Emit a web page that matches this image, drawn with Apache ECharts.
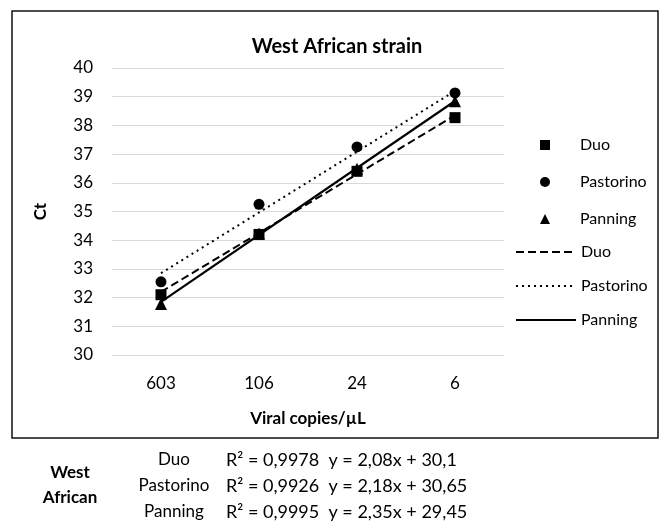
<!DOCTYPE html>
<html><head><meta charset="utf-8">
<script src="https://cdn.jsdelivr.net/npm/echarts@6/dist/echarts.min.js"></script>
<style>html,body{margin:0;padding:0;background:#fff}#c{width:661px;height:523px}</style>
</head><body><div id="c"></div>
<script>
// Categories (x axis)
const categories = ['603', '106', '24', '6'];
// Measured Ct values (markers)
const duo = [32.1, 34.2, 36.4, 38.27];
const pastorino = [32.55, 35.25, 37.25, 39.13];
const panning = [31.78, 34.23, 36.49, 38.84];
// Linear trendlines: endpoints (joined straight across the category axis)
const duoTrend = [32.2, null, null, 38.35];
const pastorinoTrend = [32.85, null, null, 39.2];
const panningTrend = [31.85, null, null, 38.85];
// Y axis ticks
const yMin = 30, yMax = 40, yStep = 1;
// Table under the chart
const tableGroup = ['West', 'African'];
const tableNames = ['Duo', 'Pastorino', 'Panning'];
const tableEquations = ['R² = 0,9978  y = 2,08x + 30,1', 'R² = 0,9926  y = 2,18x + 30,65', 'R² = 0,9995  y = 2,35x + 29,45'];

const F = 'Lato, "Open Sans", sans-serif';
const chart = echarts.init(document.getElementById('c'), null, {renderer: 'canvas'});

const rowY = [460, 486, 512];
const graphics = [{
  type: 'rect', shape: {x: 12, y: 11, width: 646, height: 427},
  style: {fill: 'none', stroke: '#111', lineWidth: 1.5}, silent: true
}];
tableGroup.forEach((t, i) => graphics.push({
  type: 'text', x: 70, y: 473 + i * 25,
  style: {text: t, font: 'bold 17px ' + F, fill: '#000', textAlign: 'center', textVerticalAlign: 'middle'}
}));
tableNames.forEach((t, i) => graphics.push({
  type: 'text', x: 174, y: rowY[i],
  style: {text: t, font: '17px ' + F, fill: '#000', textAlign: 'center', textVerticalAlign: 'middle'}
}));
tableEquations.forEach((t, i) => graphics.push({
  type: 'text', x: 226, y: rowY[i],
  style: {text: t, font: '18px ' + F, fill: '#000', textAlign: 'left', textVerticalAlign: 'middle'}
}));

const trendName = n => n + ' trend';
const legendText = {fontFamily: F, fontSize: 16, color: '#000'};
const option = {
  animation: false,
  backgroundColor: '#fff',
  title: {
    text: 'West African strain', left: 332, top: 32, textAlign: 'center',
    textStyle: {fontFamily: F, fontWeight: 'bold', fontSize: 20, color: '#000'}
  },
  grid: {left: 112, right: 157, top: 68, bottom: 168},
  legend: [{
    orient: 'vertical', left: 535, top: 132, itemWidth: 10, itemHeight: 10, itemGap: 21,
    data: [{name: 'Duo', icon: 'rect'}, {name: 'Pastorino', icon: 'circle'}, {name: 'Panning', icon: 'triangle'}],
    textStyle: Object.assign({padding: [0, 0, 0, 25]}, legendText),
    selectedMode: false
  }, {
    orient: 'vertical', left: 510, top: 239, itemWidth: 60, itemHeight: 10, itemGap: 18,
    data: [trendName('Duo'), trendName('Pastorino'), trendName('Panning')],
    formatter: n => n.replace(' trend', ''),
    itemStyle: {opacity: 0},
    textStyle: legendText,
    selectedMode: false
  }],
  xAxis: {
    type: 'category', data: categories, boundaryGap: true,
    axisLine: {show: true, lineStyle: {color: '#d9d9d9', width: 1}},
    axisTick: {show: false},
    axisLabel: {fontFamily: F, fontSize: 17, color: '#000', margin: 20},
    name: 'Viral copies/µL', nameLocation: 'middle', nameGap: 55,
    nameTextStyle: {fontFamily: F, fontSize: 17, fontWeight: 'bold', color: '#000'}
  },
  yAxis: {
    type: 'value', min: yMin, max: yMax, interval: yStep,
    axisLine: {show: false}, axisTick: {show: false},
    splitLine: {lineStyle: {color: '#d9d9d9', width: 1}},
    axisLabel: {fontFamily: F, fontSize: 17, color: '#000', margin: 19},
    name: 'Ct', nameLocation: 'middle', nameRotate: 90, nameGap: 63,
    nameTextStyle: {fontFamily: F, fontSize: 17, fontWeight: 'bold', color: '#000'}
  },
  series: [
    {name: trendName('Duo'), type: 'line', data: duoTrend, connectNulls: true, symbol: 'none',
     lineStyle: {color: '#000', width: 2, type: [8, 4]}, itemStyle: {color: '#000'}, z: 2},
    {name: trendName('Pastorino'), type: 'line', data: pastorinoTrend, connectNulls: true, symbol: 'none',
     lineStyle: {color: '#000', width: 2, type: [2, 4]}, itemStyle: {color: '#000'}, z: 2},
    {name: trendName('Panning'), type: 'line', data: panningTrend, connectNulls: true, symbol: 'none',
     lineStyle: {color: '#000', width: 2.2, type: 'solid'}, itemStyle: {color: '#000'}, z: 2},
    {name: 'Duo', type: 'scatter', data: duo, symbol: 'rect', symbolSize: 11, itemStyle: {color: '#000', opacity: 1}, z: 3},
    {name: 'Pastorino', type: 'scatter', data: pastorino, symbol: 'circle', symbolSize: 11, itemStyle: {color: '#000', opacity: 1}, z: 3},
    {name: 'Panning', type: 'scatter', data: panning, symbol: 'triangle', symbolSize: 12, itemStyle: {color: '#000', opacity: 1}, z: 3}
  ],
  graphic: graphics
};
chart.setOption(option);
</script>
</body></html>
